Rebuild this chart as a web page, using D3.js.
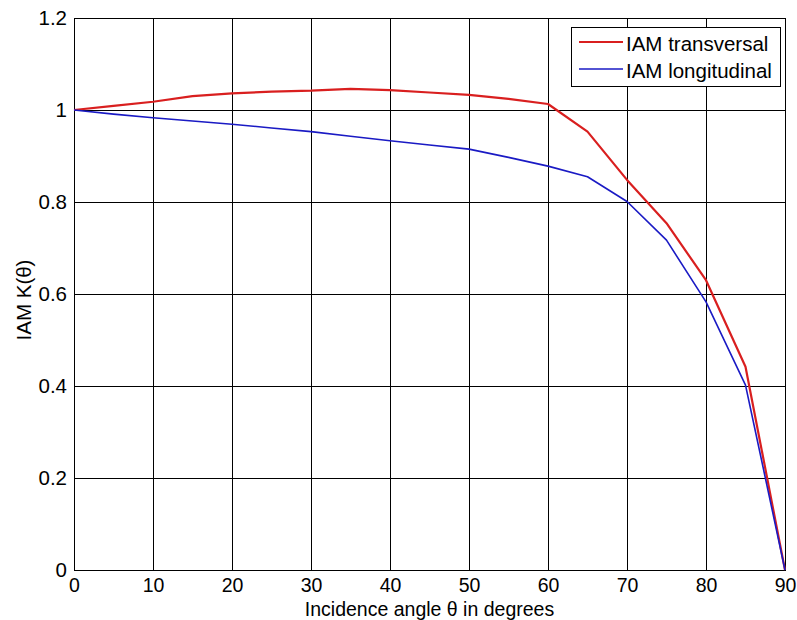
<!DOCTYPE html>
<html><head><meta charset="utf-8">
<script src="https://cdn.jsdelivr.net/npm/d3@7"></script>
<style>body{margin:0;background:#fff;} text{font-family:"Liberation Sans",Arial,sans-serif;}</style>
</head><body>
<svg id="c" width="797" height="620"></svg>
<script>
const angles = [0,5,10,15,20,25,30,35,40,45,50,55,60,65,70,75,80,85,90];
const transversal = [1,1.009,1.018,1.030,1.036,1.040,1.042,1.046,1.043,1.038,1.033,1.024,1.013,0.953,0.848,0.754,0.630,0.442,0];
const longitudinal = [1,0.991,0.983,0.976,0.969,0.961,0.953,0.943,0.933,0.924,0.915,0.897,0.878,0.855,0.801,0.717,0.583,0.402,0];
const xTicks = [0,10,20,30,40,50,60,70,80,90];
const yTicks = [0,0.2,0.4,0.6,0.8,1,1.2];
const seriesNames = ["IAM transversal","IAM longitudinal"];
const colors = ["#d91f1f","#1a1ac4"];

const FS = 20.5, FSX = 19.5;
const svg = d3.select("#c");
const L=74,R=785,T=18,B=570;
const x = d3.scaleLinear().domain([0,90]).range([L,R]);
const y = d3.scaleLinear().domain([0,1.2]).range([B,T]);

const g = svg.append("g");
g.selectAll(".vx").data(xTicks).enter().append("line")
 .attr("x1",d=>x(d)).attr("x2",d=>x(d)).attr("y1",T).attr("y2",B)
 .attr("stroke","#000").attr("stroke-width",1).attr("shape-rendering","crispEdges");
g.selectAll(".hy").data(yTicks).enter().append("line")
 .attr("y1",d=>y(d)).attr("y2",d=>y(d)).attr("x1",L).attr("x2",R)
 .attr("stroke","#000").attr("stroke-width",1).attr("shape-rendering","crispEdges");
g.append("rect").attr("x",L).attr("y",T).attr("width",R-L).attr("height",B-T)
 .attr("fill","none").attr("stroke","#000").attr("stroke-width",1).attr("shape-rendering","crispEdges");

const xAxis = d3.axisBottom(x).tickValues(xTicks).tickSize(0).tickPadding(8).tickFormat(d3.format("d"));
const yAxis = d3.axisLeft(y).tickValues(yTicks).tickSize(0).tickPadding(7).tickFormat(d=>d3.format("~g")(d));
const xa = svg.append("g").attr("transform",`translate(0,${B})`).call(xAxis);
const ya = svg.append("g").attr("transform",`translate(${L},0)`).call(yAxis);
xa.select(".domain").remove(); ya.select(".domain").remove();
xa.selectAll("text").attr("font-size",FSX).attr("fill","#000").style("font-family","'Liberation Sans',Arial,sans-serif");
ya.selectAll("text").attr("font-size",FS).attr("fill","#000").style("font-family","'Liberation Sans',Arial,sans-serif");

const line = d3.line().x((d,i)=>x(angles[i])).y(d=>y(d));
svg.append("path").datum(transversal).attr("d",line).attr("fill","none").attr("stroke",colors[0]).attr("stroke-width",2.2).attr("stroke-linejoin","round");
svg.append("path").datum(longitudinal).attr("d",line).attr("fill","none").attr("stroke",colors[1]).attr("stroke-width",1.6).attr("stroke-linejoin","round");

svg.append("text").attr("x",(L+R)/2).attr("y",615.5).attr("text-anchor","middle").attr("font-size",FSX).text("Incidence angle θ in degrees");
svg.append("text").attr("transform",`translate(31,300) rotate(-90)`).attr("text-anchor","middle").attr("font-size",FS).text("IAM K(θ)");

const lg = svg.append("g");
lg.append("rect").attr("x",571).attr("y",27).attr("width",209).attr("height",59).attr("fill","#fff").attr("stroke","#000").attr("stroke-width",1).attr("shape-rendering","crispEdges");
seriesNames.forEach((n,i)=>{
  const yy = 42 + i*27;
  lg.append("line").attr("x1",579).attr("x2",623).attr("y1",yy).attr("y2",yy).attr("stroke",colors[i]).attr("stroke-width",i===0?2:1.6);
  lg.append("text").attr("x",626).attr("y",yy+8.5).attr("font-size",FS).text(n);
});
</script>
</body></html>
